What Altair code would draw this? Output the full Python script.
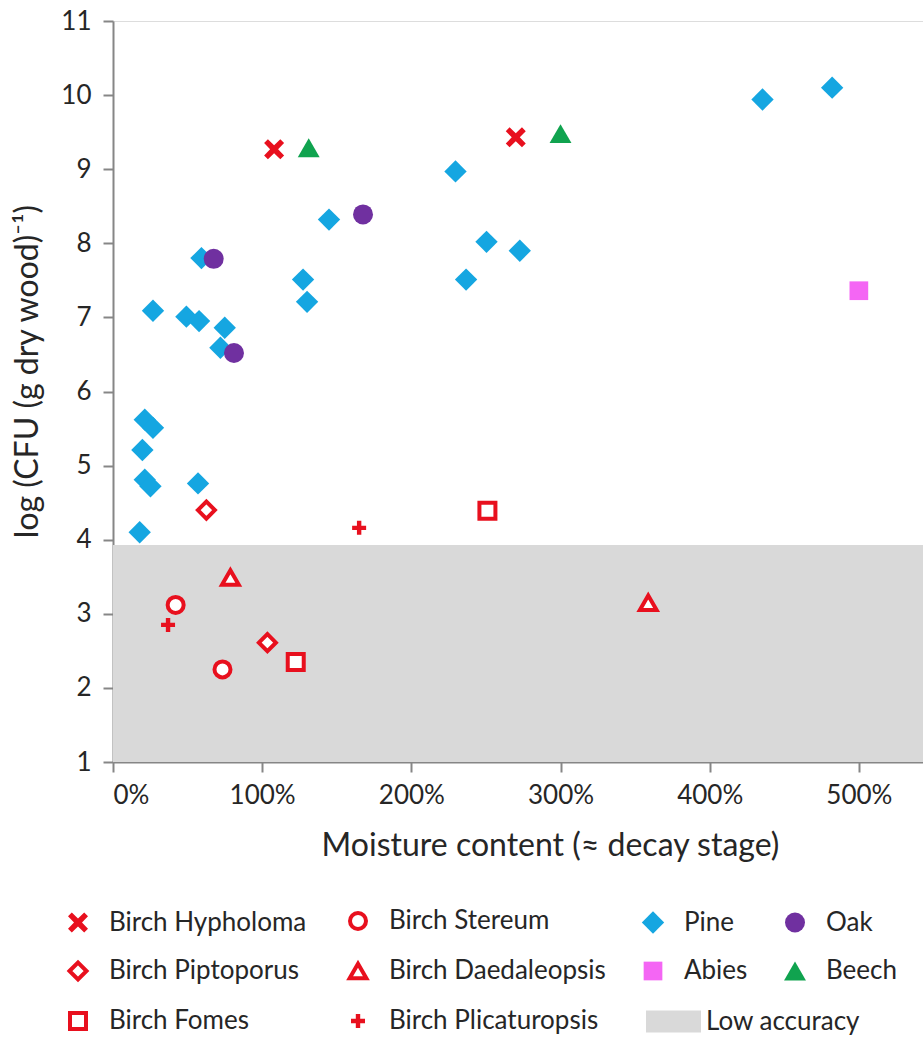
import altair as alt
import pandas as pd

# ---------------- data ----------------
series_order = ["Birch Hypholoma", "Birch Stereum", "Pine", "Oak",
                "Birch Piptoporus", "Birch Daedaleopsis", "Abies", "Beech",
                "Birch Fomes", "Birch Plicaturopsis"]

hypholoma_x = [108, 270]
hypholoma_y = [9.27, 9.43]
stereum_x = [42, 73.4]
stereum_y = [3.12, 2.25]
piptoporus_x = [62.6, 103.5]
piptoporus_y = [4.40, 2.61]
daedaleopsis_x = [78.7, 358.8]
daedaleopsis_y = [3.49, 3.15]
fomes_x = [122.5, 251]
fomes_y = [2.35, 4.39]
plicaturopsis_x = [36.9, 165]
plicaturopsis_y = [2.85, 4.16]
pine_x = [229.6, 144.8, 59.3, 127.4, 130.1, 26.8, 49.2, 57.7, 74.9, 72.0, 21.3,
          26.8, 19.7, 21.3, 25.1, 57.0, 17.9, 250.4, 272.7, 236.7, 435.4, 482.1]
pine_y = [8.97, 8.32, 7.80, 7.51, 7.21, 7.09, 7.01, 6.95, 6.86, 6.59, 5.62,
          5.51, 5.21, 4.81, 4.72, 4.76, 4.10, 8.02, 7.90, 7.51, 9.94, 10.10]
oak_x = [67.5, 167.6, 81.1]
oak_y = [7.79, 8.39, 6.52]
abies_x = [500]
abies_y = [7.36]
beech_x = [131.2, 300]
beech_y = [9.29, 9.48]

low_accuracy_label = ["Low accuracy"]
low_accuracy_top = 3.93

x_ticks = [0, 100, 200, 300, 400, 500]
y_ticks = [1, 2, 3, 4, 5, 6, 7, 8, 9, 10, 11]
x_max = 543
y_min, y_max = 1, 11

# ---------------- styles ----------------
RED = "#E8101E"
BLUE = "#15A6E1"
PURPLE = "#7030A0"
PINK = "#F466F4"
GREEN = "#10A34F"
GRAY = "#D9D9D9"

X_PATH = ("M-1,-0.62L-0.62,-1L0,-0.4L0.62,-1L1,-0.62L0.4,0L1,0.62L0.62,1"
          "L0,0.4L-0.62,1L-1,0.62L-0.4,0Z")
PLUS_PATH = ("M-0.22,-0.7H0.22V-0.22H0.7V0.22H0.22V0.7H-0.22V0.22H-0.7"
             "V-0.22H-0.22Z")

shape_range = [X_PATH, "circle", "diamond", "circle", "diamond", "triangle-up",
               "square", "triangle-up", "square", PLUS_PATH]
fill_range = [RED, "white", BLUE, PURPLE, "white", "white", PINK, GREEN, "white", RED]
stroke_range = [RED, RED, BLUE, PURPLE, RED, RED, PINK, GREEN, RED, RED]
strokew_range = [0, 4, 0, 0, 4, 4, 0, 0, 4, 0]
size_range = [400, 256, 500, 400, 289, 280, 350, 480, 256, 400]

# ---------------- table ----------------
rows = []
for name, xs, ys in [
    ("Pine", pine_x, pine_y),
    ("Oak", oak_x, oak_y),
    ("Abies", abies_x, abies_y),
    ("Beech", beech_x, beech_y),
    ("Birch Hypholoma", hypholoma_x, hypholoma_y),
    ("Birch Stereum", stereum_x, stereum_y),
    ("Birch Piptoporus", piptoporus_x, piptoporus_y),
    ("Birch Daedaleopsis", daedaleopsis_x, daedaleopsis_y),
    ("Birch Fomes", fomes_x, fomes_y),
    ("Birch Plicaturopsis", plicaturopsis_x, plicaturopsis_y),
]:
    for xv, yv in zip(xs, ys):
        rows.append({"series": name, "moisture": xv, "logcfu": yv})
df = pd.DataFrame(rows)

band = pd.DataFrame({"x0": [0], "x1": [x_max], "y0": [y_min],
                     "y1": [low_accuracy_top], "label": low_accuracy_label})

FONT = "Lato"
TXT = "#262626"

xscale = alt.Scale(domain=[0, x_max], nice=False, zero=False)
yscale = alt.Scale(domain=[y_min, y_max], nice=False, zero=False)

x_axis = alt.Axis(values=x_ticks, labelExpr="datum.value + '%'", grid=False,
                  title="Moisture content (≈ decay stage)", titleFontSize=32,
                  titleFont=FONT, titleFontWeight="normal", titleColor=TXT,
                  titlePadding=22, titleX=437, titleAlign="center",
                  labelFontSize=26, labelFont=FONT,
                  labelColor=TXT, labelPadding=10, tickSize=10, tickColor="#868686",
                  domainColor="#868686", domainWidth=2, tickWidth=2)
y_axis = alt.Axis(values=y_ticks, format="d", grid=False, title="log (CFU (g dry wood)⁻¹)",
                  titleFontSize=32, titleFont=FONT, titleFontWeight="normal",
                  titleColor=TXT, titlePadding=16, titleY=350, labelFontSize=26, labelFont=FONT,
                  labelColor=TXT, labelPadding=12, tickSize=10, tickColor="#868686",
                  domainColor="#868686", domainWidth=2, tickWidth=2)

rect = alt.Chart(band).mark_rect(opacity=1).encode(
    x=alt.X("x0:Q", scale=xscale, axis=x_axis),
    x2="x1:Q",
    y=alt.Y("y0:Q", scale=yscale, axis=y_axis),
    y2="y1:Q",
    color=alt.Color("label:N", scale=alt.Scale(domain=low_accuracy_label, range=[GRAY]),
                    legend=alt.Legend(title=None, orient="none", legendX=532, legendY=972,
                                      symbolType="M-1,-0.4H1V0.4H-1Z", symbolSize=3025,
                                      symbolOpacity=1, labelFont=FONT, labelFontSize=26,
                                      labelColor=TXT, labelOffset=4, padding=0,
                                      labelLimit=400)),
)

pts = alt.Chart(df).mark_point(opacity=1, fillOpacity=1, strokeOpacity=1).encode(
    x=alt.X("moisture:Q", scale=xscale),
    y=alt.Y("logcfu:Q", scale=yscale),
    shape=alt.Shape("series:N", scale=alt.Scale(domain=series_order, range=shape_range),
                    legend=alt.Legend(title=None, orient="none", legendX=-48, legendY=887,
                                      direction="horizontal",
                                      columns=4, columnPadding=34, rowPadding=17,
                                      labelFont=FONT, labelFontSize=26, labelColor=TXT,
                                      labelOffset=18, padding=0, symbolOpacity=1,
                                      labelLimit=400)),
    fill=alt.Fill("series:N", scale=alt.Scale(domain=series_order, range=fill_range)),
    stroke=alt.Stroke("series:N", scale=alt.Scale(domain=series_order, range=stroke_range)),
    strokeWidth=alt.StrokeWidth("series:N", scale=alt.Scale(type="ordinal", domain=series_order,
                                                            range=strokew_range)),
    size=alt.Size("series:N", scale=alt.Scale(type="ordinal", domain=series_order,
                                              range=size_range)),
)

chart = alt.layer(rect, pts).properties(
    width=810, height=741,
    autosize=alt.AutoSizeParams(type="none"),
    padding={"left": 113, "top": 21, "right": 0, "bottom": 275},
).configure_view(stroke=None).configure(background="white")

chart.save("out.html", embed_options={"renderer": "svg", "actions": False})
